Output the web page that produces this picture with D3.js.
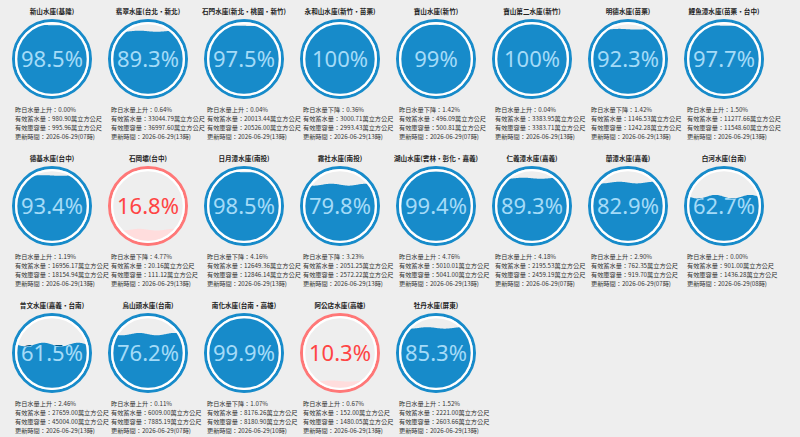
<!DOCTYPE html>
<html>
<head>
<meta charset="utf-8">
<script src="https://cdn.jsdelivr.net/npm/d3@7/dist/d3.min.js"></script>
<style>
  html, body { margin: 0; padding: 0; background: #eeeeee; }
  svg { display: block; }
  .title { font-family: "Noto Sans CJK TC", sans-serif; font-size: 6.6px; font-weight: bold; fill: #222; }
  .info { font-family: "Noto Sans CJK TC", sans-serif; font-size: 6.2px; fill: #333; }
  .pct { font-family: "Noto Sans", "Open Sans", sans-serif; }
</style>
</head>
<body>
<svg id="chart" width="800" height="437"></svg>
<script>
// reservoir data
const names = [
  "新山水庫(基隆)", "翡翠水庫(台北・新北)", "石門水庫(新北・桃園・新竹)", "永和山水庫(新竹・苗栗)",
  "寶山水庫(新竹)", "寶山第二水庫(新竹)", "明德水庫(苗栗)", "鯉魚潭水庫(苗栗・台中)",
  "德基水庫(台中)", "石岡壩(台中)", "日月潭水庫(南投)", "霧社水庫(南投)",
  "湖山水庫(雲林・彰化・嘉義)", "仁義潭水庫(嘉義)", "蘭潭水庫(嘉義)", "白河水庫(台南)",
  "曾文水庫(嘉義・台南)", "烏山頭水庫(台南)", "南化水庫(台南・高雄)", "阿公店水庫(高雄)",
  "牡丹水庫(屏東)"
];
const percents = [98.5, 89.3, 97.5, 100, 99, 100, 92.3, 97.7,
  93.4, 16.8, 98.5, 79.8, 99.4, 89.3, 82.9, 62.7,
  61.5, 76.2, 99.9, 10.3, 85.3];
// yesterday change, negative = 下降
const changes = [0.00, 0.64, 0.04, -0.36, -1.42, 0.04, -1.42, 1.50,
  1.19, -4.77, -4.16, -3.23, 4.76, 4.18, 2.90, 0.00,
  2.46, 0.11, -1.07, 0.67, 1.52];
const storage = ["980.90", "33044.79", "20013.44", "3000.71", "496.09", "3383.95", "1146.53", "11277.66",
  "16956.17", "20.16", "12649.36", "2051.25", "5010.01", "2195.53", "762.35", "901.00",
  "27659.00", "6009.00", "8176.26", "152.00", "2221.00"];
const capacity = ["995.96", "36997.60", "20526.00", "2993.43", "500.81", "3383.71", "1242.28", "11548.60",
  "18154.94", "111.12", "12846.14", "2572.22", "5041.00", "2459.19", "919.70", "1436.28",
  "45004.00", "7885.19", "8180.90", "1480.05", "2603.66"];
const updateDate = "2026-06-29";
const updateHours = ["07", "13", "13", "13", "07", "13", "13", "13",
  "13", "13", "13", "13", "13", "07", "07", "08",
  "13", "07", "10", "13", "13"];

const perRow = 8;
const R = 40, ringW = 3, gapW = 2.2;
const fillR = R - ringW - gapW;
const waveHeight = 0.07, waveCount = 2;

const blue = { circle: "#178BCA", wave: "#178BCA", text: "#045681", waveText: "#A4DBF8" };
const red = { circle: "#FF7777", wave: "#FFDDDD", text: "#FF4444", waveText: "#FFAAAA" };

const x = d3.scaleLinear().domain([0, perRow - 1]).range([52, 724]);
const y = d3.scaleLinear().domain([0, 2]).range([59, 353]);
const waveScale = d3.scaleLinear().domain([0, 50, 100]).range([0, waveHeight, 0]);

const svg = d3.select("#chart");

names.forEach(function (name, i) {
  const cx = x(i % perRow), cy = y(Math.floor(i / perRow));
  const p = percents[i] / 100;
  const c = percents[i] < 20 ? red : blue;
  const g = svg.append("g").attr("transform", "translate(" + cx + "," + cy + ")");

  g.append("text").attr("class", "title")
    .attr("x", 0).attr("y", -R - 5.5)
    .attr("text-anchor", "middle").text(name);

  // outer ring + white gap
  g.append("circle").attr("r", R - ringW / 2)
    .attr("fill", "none").attr("stroke", c.circle).attr("stroke-width", ringW);
  g.append("circle").attr("r", R - ringW - gapW / 2)
    .attr("fill", "none").attr("stroke", "#ffffff").attr("stroke-width", gapW);

  // wave
  const wh = fillR * waveScale(percents[i]);
  const mid = -fillR + (2 * fillR + 2 * wh) * (1 - p) - wh;
  const wx = d3.scaleLinear().domain([0, 1]).range([-fillR, fillR]);
  const pts = d3.range(0, 1.0001, 1 / 80);
  const area = d3.area()
    .x(d => wx(d))
    .y0(d => mid + wh * Math.sin(2 * Math.PI * waveCount * d))
    .y1(fillR + 2);

  const clipId = "wave" + i;
  g.append("clipPath").attr("id", clipId)
    .append("path").attr("d", area(pts));

  const txtSize = 22;
  const label = Number.isInteger(percents[i]) ? percents[i] + "%" : percents[i].toFixed(1) + "%";
  const ty = txtSize * 0.35;

  g.append("text").attr("class", "pct")
    .attr("text-anchor", "middle").attr("y", ty)
    .attr("font-size", txtSize).attr("fill", c.text).text(label);

  const fillG = g.append("g").attr("clip-path", "url(#" + clipId + ")");
  fillG.append("circle").attr("r", fillR).attr("fill", c.wave);
  fillG.append("text").attr("class", "pct")
    .attr("text-anchor", "middle").attr("y", ty)
    .attr("font-size", txtSize).attr("fill", c.waveText).text(label);

  // info lines
  const up = changes[i] >= 0;
  const lines = [
    { t: "昨日水量" + (up ? "上升" : "下降") + "：" + Math.abs(changes[i]).toFixed(2) + "%", col: up ? "#2d8fd5" : "#f26d6d" },
    { t: "有效蓄水量：" + storage[i] + "萬立方公尺", col: "#444" },
    { t: "有效庫容量：" + capacity[i] + "萬立方公尺", col: "#444" },
    { t: "更新時間：" + updateDate + "(" + updateHours[i] + "時)", col: "#444" }
  ];
  lines.forEach(function (l, k) {
    g.append("text").attr("class", "info")
      .attr("x", -R + 3).attr("y", R + 12.5 + k * 9)
      .attr("fill", l.col).text(l.t);
  });
});
</script>
</body>
</html>
